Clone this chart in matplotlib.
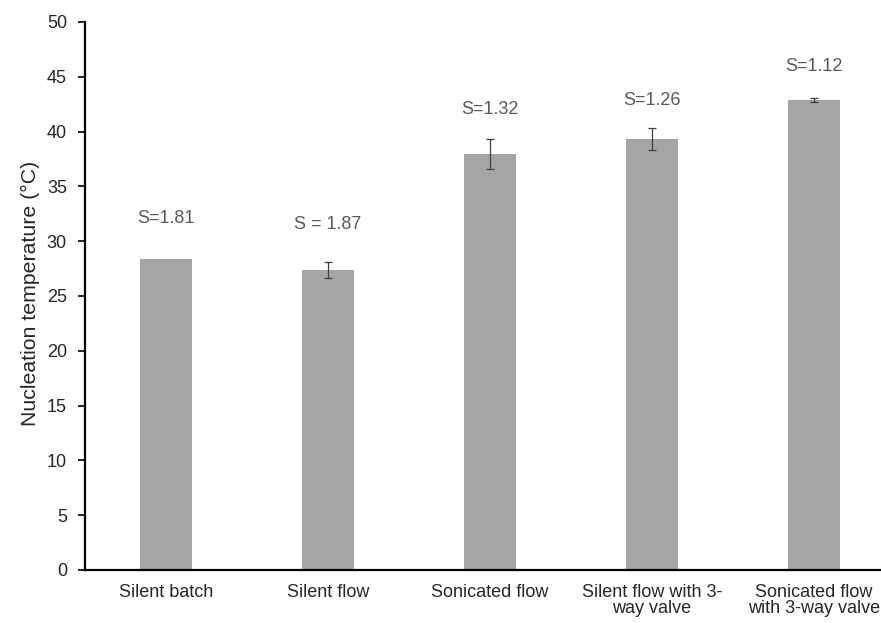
import matplotlib.pyplot as plt

plt.rcParams['font.family'] = ['Liberation Sans', 'DejaVu Sans']

categories = ["Silent batch", "Silent flow", "Sonicated flow",
              "Silent flow with 3-\nway valve", "Sonicated flow\nwith 3-way valve"]
temps = [28.4, 27.35, 37.93, 39.32, 42.91]
errors = [0.0, 0.75, 1.37, 0.98, 0.18]
s_labels = ["S=1.81", "S = 1.87", "S=1.32", "S=1.26", "S=1.12"]
s_label_y = [32.1, 31.5, 42.0, 42.8, 45.9]

fig = plt.figure(figsize=(8.81, 6.23), dpi=100)
ax = fig.add_axes([85 / 881, 53 / 623, 810 / 881, 548 / 623])

x = list(range(len(categories)))
ax.bar(x, temps, width=0.315, color="#A5A5A5", zorder=2)
for xi, t, e in zip(x, temps, errors):
    if e > 0:
        ax.errorbar(xi, t, yerr=e, fmt="none", ecolor="#404040",
                    elinewidth=0.9, capsize=2.7, capthick=0.9, zorder=3)

for xi, lab, ly in zip(x, s_labels, s_label_y):
    ax.text(xi, ly, lab, ha="center", va="center", fontsize=13, color="#595959")

ax.set_xlim(-0.5, 4.5)
ax.set_ylim(0, 50)
ax.set_yticks(range(0, 51, 5))
ax.set_xticks(x)
ax.set_xticklabels(categories, fontsize=13, color="#262626", linespacing=0.95)
ax.tick_params(axis="x", length=0, pad=10)
ax.tick_params(axis="y", length=5, width=1.2, labelsize=13, labelcolor="#262626", pad=8)

for side in ("top", "right"):
    ax.spines[side].set_visible(False)
for side in ("left", "bottom"):
    ax.spines[side].set_linewidth(1.6)
    ax.spines[side].set_color("black")

ax.set_ylabel("Nucleation temperature (°C)", fontsize=15.3, color="#262626")
ax.yaxis.set_label_coords(-0.056, 0.505)

fig.savefig("out.png", dpi=100)
